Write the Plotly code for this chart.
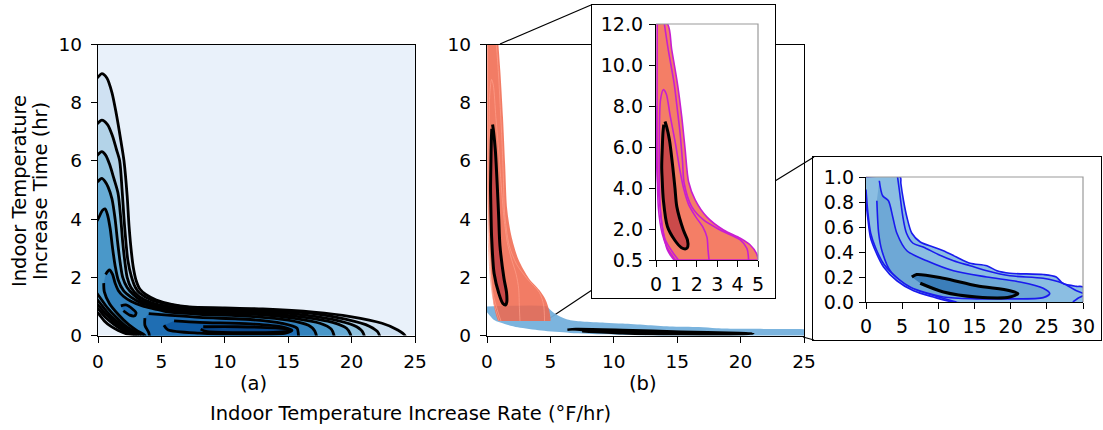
import plotly.graph_objects as go

W, H = 1103, 430
FONT = "DejaVu Sans"

# ---------------- panel (a): combined density, contour outlines (outer -> inner) ----------------
A_BG = "#e9f1fa"
A_C1 = [(-0.6, 8.6), (0, 8.88), (0.3, 9.0), (0.7, 8.85), (1.1, 8.35), (1.45, 7.6), (1.8, 6.7), (2.05, 6.0),
        (2.3, 4.8), (2.45, 3.75), (2.65, 2.8), (2.8, 2.3), (3.0, 1.9), (3.3, 1.6), (3.8, 1.4), (4.6, 1.22),
        (5.8, 1.07), (7.2, 0.98), (10, 0.95), (13, 0.91), (17, 0.8), (19.9, 0.65), (22.4, 0.42), (23.6, 0.2),
        (24.2, 0.0), (24.3, -0.5),
        (2.9, -0.5), (2.76, 0.0), (2.2, 0.06), (1.6, 0.17), (1.0, 0.32), (0.5, 0.5), (0, 0.77), (-0.6, 1.0)]
A_C2 = [(-0.6, 7.0), (0, 7.3), (0.3, 7.4), (0.75, 7.25), (1.15, 6.85), (1.45, 6.4), (1.71, 6.0), (1.9, 5.0),
        (2.1, 3.74), (2.35, 2.6), (2.63, 2.03), (2.95, 1.65), (3.3, 1.45), (4.2, 1.22), (5.1, 1.11), (6.5, 1.0),
        (8, 0.94), (13, 0.87), (17, 0.75), (19.5, 0.56), (21.4, 0.32), (22.1, 0.1), (22.2, -0.5),
        (3.1, -0.5), (2.95, 0), (2.4, 0.09), (1.8, 0.22), (1.2, 0.4), (0.6, 0.62), (0, 0.92), (-0.6, 1.15)]
A_C3 = [(-0.6, 5.9), (0, 6.22), (0.3, 6.32), (0.6, 6.2), (0.9, 5.9), (1.25, 5.4), (1.58, 4.89), (1.8, 4.0),
        (1.95, 3.2), (2.1, 2.6), (2.3, 2.0), (2.6, 1.65), (3.2, 1.35), (4.2, 1.13), (5.5, 1.0), (8, 0.9),
        (13, 0.82), (16.5, 0.69), (19, 0.5), (20.4, 0.3), (20.9, 0.1), (21, -0.5),
        (3.25, -0.5), (3.1, 0), (2.55, 0.1), (1.95, 0.25), (1.3, 0.46), (0.65, 0.72), (0, 1.05), (-0.6, 1.3)]
A_C4 = [(-0.6, 5.0), (0, 5.3), (0.3, 5.4), (0.55, 5.3), (0.8, 5.1), (1.1, 4.7), (1.35, 4.0), (1.55, 3.2),
        (1.75, 2.5), (1.95, 2.0), (2.3, 1.65), (2.8, 1.4), (3.4, 1.2), (4.3, 1.06), (5.5, 0.94), (8, 0.85),
        (13, 0.77), (16, 0.64), (18.5, 0.45), (19.6, 0.25), (19.9, 0.05), (20, -0.5),
        (3.45, -0.5), (3.3, 0), (2.7, 0.12), (2.1, 0.28), (1.4, 0.52), (0.7, 0.82), (0, 1.2), (-0.6, 1.45)]
A_C5 = [(-0.6, 3.6), (0, 4.0), (0.35, 4.3), (0.55, 4.35), (0.75, 4.15), (0.95, 3.7), (1.15, 3.0),
        (1.35, 2.4), (1.6, 1.9), (2.0, 1.55), (2.6, 1.32), (3.4, 1.12), (4.5, 0.98), (5.5, 0.88), (8, 0.79),
        (13, 0.71), (15.5, 0.59), (17.5, 0.42), (18.4, 0.22), (18.6, 0.02), (18.7, -0.5),
        (3.65, -0.5), (3.5, 0), (2.9, 0.14), (2.2, 0.32), (1.5, 0.6), (0.75, 0.95), (0, 1.4), (-0.6, 1.7)]
A_C6 = [(0.6, 2.1), (0.9, 2.25), (1.15, 2.1), (1.35, 1.8), (1.6, 1.55), (2.0, 1.35), (2.6, 1.18),
        (3.5, 1.02), (4.5, 0.91), (5.5, 0.81), (8, 0.73), (12, 0.66), (15, 0.53), (16.6, 0.35), (17.1, 0.15),
        (17.2, -0.5),
        (3.85, -0.5), (3.7, 0), (3.1, 0.16), (2.4, 0.38), (1.6, 0.72), (0.9, 1.1), (0.5, 1.5), (0.45, 1.8)]
A_C7 = [(4, 0.75), (5.5, 0.7), (8, 0.62), (12, 0.55), (14.5, 0.42), (15.7, 0.25), (15.8, 0.05), (15.8, -0.5),
        (4.4, -0.5), (4.0, 0.1), (3.7, 0.35), (3.7, 0.6)]
A_C7_ISLAND = [(1.8, 1.02), (2.2, 1.05), (2.7, 0.92), (3.0, 0.78), (2.9, 0.68), (2.5, 0.7), (2.0, 0.85)]
A_C8 = [(6, 0.5), (8, 0.45), (12, 0.4), (14.5, 0.3), (15.3, 0.18), (14.8, 0.08), (12, 0.05), (8, 0.08),
        (5.5, 0.2), (5.2, 0.35)]
A_C9 = [(8.3, 0.3), (11, 0.3), (14, 0.26), (15.2, 0.2), (14.5, 0.12), (11, 0.1), (8.5, 0.14), (8.1, 0.22)]

A_LEVELS = [
    ("#cfe1f2", [A_C1]),
    ("#b3d3e8", [A_C2]),
    ("#8fc2de", [A_C3]),
    ("#68acd5", [A_C4]),
    ("#4a98c9", [A_C5]),
    ("#3383be", [A_C6]),
    ("#1f6eb3", [A_C7, A_C7_ISLAND]),
    ("#0e59a2", [A_C8]),
    ("#08468b", [A_C9]),
]

# ---------------- panel (b): two separate densities ----------------
# long-duration group (x in [0, 5], y in [0.5, 12])
R_OUTER = [(0.02, 12), (0.56, 12), (0.77, 10.75), (1.05, 9.1), (1.26, 7.5), (1.43, 5.87), (1.6, 4.3),
           (1.92, 3.43), (2.49, 2.6), (3.31, 1.96), (4.13, 1.56), (4.62, 1.23), (4.92, 0.83), (5.0, 0.5),
           (4.9, 0.5), (1.0, 0.5), (0.9, 0.5), (0.56, 0.99), (0.36, 1.8), (0.16, 3.43), (0.04, 5), (0.02, 8)]
R_MID_RIGHT = [(0.41, 12), (0.6, 10.75), (0.89, 9.1), (1.05, 7.8), (1.18, 6.68), (1.3, 5.3), (1.38, 4.24),
               (1.75, 3.1), (2.33, 2.45), (3.15, 1.96), (4.13, 1.48), (4.46, 1.06), (4.54, 0.5)]
R_MID_LEFT = [(0.95, 0.5), (0.55, 1.1), (0.3, 1.8), (0.12, 3.0), (0.06, 5.0), (0.06, 12)]
R_INNER = [(1.1, 0.5), (0.8, 0.9), (0.45, 1.5), (0.25, 2.5), (0.17, 4.0), (0.16, 6.0), (0.22, 8.3),
           (0.36, 8.8), (0.5, 8.6), (0.7, 7.5), (0.95, 6.2), (1.15, 5.0), (1.35, 4.0), (1.6, 3.2),
           (1.95, 2.6), (2.3, 2.1), (2.5, 1.6), (2.55, 1.0), (2.6, 0.5)]
R_CORE = [(0.44, 7.25), (0.52, 7.0), (0.66, 6.35), (0.82, 5.05), (0.93, 4.0), (1.02, 3.1), (1.34, 1.96),
          (1.54, 1.48), (1.56, 1.15), (1.48, 1.05), (1.25, 1.1), (0.93, 1.45), (0.56, 2.13), (0.36, 3.43),
          (0.3, 4.5), (0.28, 5.05), (0.31, 6.0), (0.34, 6.7), (0.38, 7.1)]

# short-duration group (x in [0, 30], y in [0, 1])
B_OUTER = [(0, 1.0), (4.73, 1.0), (4.82, 0.95), (5.19, 0.81), (5.65, 0.68), (6.34, 0.55), (7.5, 0.48),
           (9.3, 0.44), (10.7, 0.41), (12.5, 0.36), (14.4, 0.31), (16.7, 0.29), (18.1, 0.25), (19.9, 0.23),
           (24.5, 0.22), (26.3, 0.2), (27.2, 0.15), (29.1, 0.125), (30, 0.12), (30, 0.0), (12.1, 0.0),
           (9.3, 0.04), (6.57, 0.09), (4.27, 0.17), (2.43, 0.28), (1.29, 0.41), (0.6, 0.52), (0.23, 0.68),
           (0, 0.8)]
B_MID = [(4.36, 1.0), (4.6, 0.9), (5.1, 0.68), (5.6, 0.55), (6.5, 0.47), (7.9, 0.44), (10, 0.38),
         (12.1, 0.33), (14.4, 0.29), (16.7, 0.25), (19.9, 0.21), (24.5, 0.19), (27.2, 0.15), (29.1, 0.09),
         (30, 0.07)]
B_MID_LOW = [(0, 0.9), (0.25, 0.72), (0.65, 0.55), (1.35, 0.43), (2.5, 0.3), (4.4, 0.19), (6.7, 0.11),
             (9.5, 0.05), (12.5, 0.0)]
B_MID_CORNER = [(28.6, 0.0), (29.3, 0.03), (30, 0.05)]
B_INNER = [(1.84, 0.97), (2.3, 0.85), (3.1, 0.81), (3.7, 0.68), (4.27, 0.55), (5.65, 0.41), (8.4, 0.33),
           (12.1, 0.25), (16.7, 0.2), (21.3, 0.16), (24.5, 0.11), (25.4, 0.067), (24.5, 0.035), (19.9, 0.025),
           (15.3, 0.025), (10.7, 0.04), (6.1, 0.12), (3.35, 0.25), (2.2, 0.41), (1.75, 0.55), (1.5, 0.81)]
B_CORE = [(6.34, 0.2), (7.0, 0.22), (10.7, 0.19), (15.3, 0.13), (19.9, 0.09), (21, 0.067), (19.9, 0.04),
          (15.3, 0.04), (10.7, 0.08), (7.5, 0.15)]

A_TICKS_X = [0, 5, 10, 15, 20, 25]
A_TICKS_Y = [0, 2, 4, 6, 8, 10]
IN1_TICKS_X = [0, 1, 2, 3, 4, 5]
IN1_TICKS_Y = [0.5, 2.0, 4.0, 6.0, 8.0, 10.0, 12.0]
IN2_TICKS_X = [0, 5, 10, 15, 20, 25, 30]
IN2_TICKS_Y = [0.0, 0.2, 0.4, 0.6, 0.8, 1.0]

# ---------------- figure geometry (pixels) ----------------
def dx(a, b):
    return [a / W, b / W]


def dy(top, bottom):
    return [1 - bottom / H, 1 - top / H]


PANEL_A = (98, 415, 44.5, 335.5)
PANEL_B = (487, 804, 44.5, 335.5)
BOX_1 = (592, 775, 5, 298)
INSET_1 = (656, 758, 24, 260)
BOX_2 = (813, 1101, 157, 340)
INSET_2 = (866, 1083, 177, 302)


def xs(pts):
    return [p[0] for p in pts]


def ys(pts):
    return [p[1] for p in pts]


fig = go.Figure()


def poly(pts, ax, fill=None, line_color=None, width=0.0, closed=True, smooth=0.8):
    xa, ya = ax
    fig.add_trace(go.Scatter(
        x=xs(pts), y=ys(pts), xaxis=xa, yaxis=ya,
        mode="lines",
        fill="toself" if (closed and fill) else "none",
        fillcolor=fill,
        line=dict(color=line_color or "rgba(0,0,0,0)", width=width, shape="spline", smoothing=smooth),
        hoverinfo="skip", showlegend=False,
    ))


# panel (a)
for color, polys in A_LEVELS:
    for p in polys:
        poly(p, ("x", "y"), fill=color, line_color="black", width=2.8)

# panel (b): short-duration density then long-duration density
poly(B_OUTER, ("x2", "y2"), fill="rgba(116,176,220,0.95)", line_color="rgba(0,0,0,0)", width=0)
poly(B_CORE, ("x2", "y2"), fill="black", line_color="black", width=2.5)
poly(R_OUTER, ("x2", "y2"), fill="rgba(240,102,76,0.86)", width=0)
for p in (R_MID_RIGHT, R_MID_LEFT, R_INNER):
    poly(p, ("x2", "y2"), line_color="rgba(255,160,140,0.7)", width=1, closed=False)
poly(R_CORE, ("x2", "y2"), fill="#c94848", line_color="black", width=3)

# box behind inset 1 (keeps its subplot alive)
fig.add_trace(go.Scatter(x=[0.5], y=[0.5], xaxis="x3", yaxis="y3", mode="markers",
                         marker=dict(opacity=0), hoverinfo="skip", showlegend=False))

# inset 1: long-duration density
MAG = "#c81ed2"
poly(R_OUTER, ("x4", "y4"), fill="#f47e66", line_color=MAG, width=1.6)
for p in (R_MID_RIGHT, R_MID_LEFT, R_INNER):
    poly(p, ("x4", "y4"), line_color=MAG, width=1.6, closed=False)
poly(R_CORE, ("x4", "y4"), fill="#cb4a4a", line_color="black", width=3)

# box behind inset 2
fig.add_trace(go.Scatter(x=[0.5], y=[0.5], xaxis="x5", yaxis="y5", mode="markers",
                         marker=dict(opacity=0), hoverinfo="skip", showlegend=False))

# inset 2: short-duration density
BLU = "#1a1aee"
poly(B_OUTER, ("x6", "y6"), fill="#8bbee2", line_color=BLU, width=1.6)
for p in (B_MID, B_MID_LOW, B_MID_CORNER):
    poly(p, ("x6", "y6"), line_color=BLU, width=1.6, closed=False)
poly(B_INNER, ("x6", "y6"), fill="#6ea8d6", line_color=BLU, width=1.6)
poly(B_CORE, ("x6", "y6"), fill="#3b7eba", line_color="black", width=3)

# ---------------- axes ----------------
tick_main = dict(family=FONT, size=18.5, color="black")
tick_inset = dict(family=FONT, size=19, color="black")


def axis(dom, rng, tickvals=None, ticktext=None, font=tick_main, mirror=True, anchor=None, standoff=4):
    d = dict(domain=dom, range=rng, showgrid=False, zeroline=False, showline=True, linecolor="black",
             linewidth=1.3, mirror=mirror, ticks="outside" if tickvals is not None else "",
             ticklen=6, tickwidth=1.2, tickcolor="black", tickfont=font, fixedrange=True,
             automargin=False)
    if tickvals is not None:
        d["tickvals"] = tickvals
        d["ticktext"] = ticktext if ticktext is not None else [str(v) for v in tickvals]
        d["ticklabelstandoff"] = standoff
    else:
        d["showticklabels"] = False
    if anchor:
        d["anchor"] = anchor
    return d


layout = dict(
    width=W, height=H, autosize=False, margin=dict(l=0, r=0, t=0, b=0, pad=0),
    paper_bgcolor="white", plot_bgcolor="white", hovermode=False, showlegend=False,
    xaxis=axis(dx(PANEL_A[0], PANEL_A[1]), [0, 25], A_TICKS_X, anchor="y", standoff=3),
    yaxis=axis(dy(PANEL_A[2], PANEL_A[3]), [0, 10], A_TICKS_Y, anchor="x", standoff=5),
    xaxis2=axis(dx(PANEL_B[0], PANEL_B[1]), [0, 25], A_TICKS_X, anchor="y2", standoff=3),
    yaxis2=axis(dy(PANEL_B[2], PANEL_B[3]), [0, 10], A_TICKS_Y, anchor="x2", standoff=5),
    xaxis3=axis(dx(BOX_1[0], BOX_1[1]), [0, 1], anchor="y3"),
    yaxis3=axis(dy(BOX_1[2], BOX_1[3]), [0, 1], anchor="x3"),
    xaxis4=axis(dx(INSET_1[0], INSET_1[1]), [0, 5], IN1_TICKS_X, font=tick_inset, mirror=False,
                anchor="y4", standoff=1),
    yaxis4=axis(dy(INSET_1[2], INSET_1[3]), [0.5, 12], IN1_TICKS_Y, ["%.1f" % v for v in IN1_TICKS_Y],
                font=tick_inset, mirror=False, anchor="x4", standoff=2),
    xaxis5=axis(dx(BOX_2[0], BOX_2[1]), [0, 1], anchor="y5"),
    yaxis5=axis(dy(BOX_2[2], BOX_2[3]), [0, 1], anchor="x5"),
    xaxis6=axis(dx(INSET_2[0], INSET_2[1]), [0, 30], IN2_TICKS_X, font=tick_inset, mirror=False,
                anchor="y6", standoff=1),
    yaxis6=axis(dy(INSET_2[2], INSET_2[3]), [0, 1], IN2_TICKS_Y, ["%.1f" % v for v in IN2_TICKS_Y],
                font=tick_inset, mirror=False, anchor="x6", standoff=1),
)
fig.update_layout(**layout)

shapes = [
    # background band of the combined density
    dict(type="rect", xref="x", yref="y", x0=0, x1=25, y0=0, y1=10, layer="below",
         fillcolor=A_BG, line=dict(width=0)),
]
# light top/right frame of the insets
for (l, r, t, b) in (INSET_1, INSET_2):
    shapes.append(dict(type="path", xref="paper", yref="paper", layer="above",
                       path="M %f %f L %f %f L %f %f" % (l / W, 1 - t / H, r / W, 1 - t / H, r / W, 1 - b / H),
                       line=dict(color="#9a9a9a", width=1.2)))
# zoom connector lines
CONNECTORS = [((500, 44), (591, 5)), ((550, 318), (592, 290)), ((775, 181), (814, 157)),
              ((803, 337), (814, 340))]
for (x0, y0), (x1, y1) in CONNECTORS:
    shapes.append(dict(type="line", xref="paper", yref="paper", layer="below",
                       x0=x0 / W, y0=1 - y0 / H, x1=x1 / W, y1=1 - y1 / H,
                       line=dict(color="black", width=1.2)))
fig.update_layout(shapes=shapes)

lab = dict(family=FONT, size=19.5, color="black")
txt = dict(xref="paper", yref="paper", showarrow=False, font=lab, xanchor="center", yanchor="middle")
ann = [
    dict(text="(a)", x=253 / W, y=1 - 383 / H, **txt),
    dict(text="(b)", x=643 / W, y=1 - 383 / H, **txt),
    dict(text="Indoor Temperature Increase Rate (°F/hr)", x=410 / W, y=1 - 413 / H, **txt),
    dict(text="Indoor Temperature", x=20 / W, y=1 - 191 / H, textangle=-90, **txt),
    dict(text="Increase Time (hr)", x=41 / W, y=1 - 191 / H, textangle=-90, **txt),
]
fig.update_layout(annotations=ann)

fig.write_html("out.html")
